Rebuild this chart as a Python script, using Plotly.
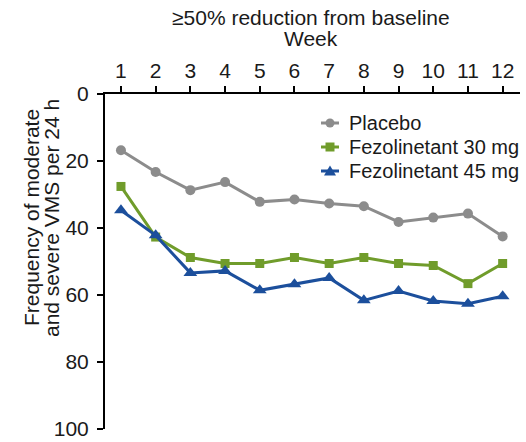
import plotly.graph_objects as go

weeks = [1, 2, 3, 4, 5, 6, 7, 8, 9, 10, 11, 12]
placebo = [16.8, 23.3, 28.7, 26.3, 32.2, 31.5, 32.7, 33.5, 38.2, 36.9, 35.7, 42.5]
fez30 = [27.6, 42.7, 48.8, 50.6, 50.6, 48.8, 50.6, 48.8, 50.6, 51.2, 56.6, 50.6]
fez45 = [34.7, 42.2, 53.4, 52.8, 58.6, 56.8, 54.9, 61.6, 58.8, 61.8, 62.6, 60.4]
y_ticks = [0, 20, 40, 60, 80, 100]
series_names = ["Placebo", "Fezolinetant 30 mg", "Fezolinetant 45 mg"]

styles = [
    dict(color="#8c8c8c", symbol="circle", size=10),
    dict(color="#709c2b", symbol="square", size=9),
    dict(color="#1c4f9c", symbol="triangle-up", size=12),
]

fig = go.Figure()
for name, vals, st in zip(series_names, [placebo, fez30, fez45], styles):
    fig.add_trace(go.Scatter(
        x=weeks, y=vals, name=name, mode="lines+markers",
        line=dict(color=st["color"], width=3),
        marker=dict(color=st["color"], symbol=st["symbol"], size=st["size"]),
        showlegend=False,
    ))

font = "Liberation Sans, Arial, sans-serif"
L, T, B, R = 105, 94, 13, 6
pw = 526 - L - R
ph = 442 - T - B


def px(x):
    return (x - L) / pw


def py(y):
    return 1 - (y - T) / ph


fig.update_layout(
    width=526, height=442,
    margin=dict(l=L, r=R, t=T, b=B, autoexpand=False),
    paper_bgcolor="white", plot_bgcolor="white",
    font=dict(family=font, size=21, color="#1a1a1a"),
    showlegend=False,
    xaxis=dict(
        side="top", range=[0.54, 12.5], tickvals=weeks,
        showline=True, linecolor="black", linewidth=2,
        ticks="outside", ticklen=6, tickwidth=2, tickcolor="black",
        showgrid=False, zeroline=False, tickfont=dict(size=21),
        automargin=False,
    ),
    yaxis=dict(
        range=[100, 0], tickvals=y_ticks,
        showline=True, linecolor="black", linewidth=2,
        ticks="outside", ticklen=6, tickwidth=2, tickcolor="black",
        showgrid=False, zeroline=False, tickfont=dict(size=21),
        ticklabelstandoff=4, automargin=False,
    ),
)
# small extension of the top axis line to the left of the y axis
fig.add_shape(type="line", xref="paper", yref="paper",
              x0=px(98), x1=0, y0=1, y1=1,
              line=dict(color="black", width=2))

# manual legend
rows = [123, 147, 171]
for name, st, ry in zip(series_names, styles, rows):
    c = st["color"]
    fig.add_shape(type="line", xref="paper", yref="paper",
                  x0=px(321), x1=px(339), y0=py(ry), y1=py(ry),
                  line=dict(color=c, width=3))
    if st["symbol"] == "circle":
        fig.add_shape(type="circle", xref="paper", yref="paper",
                      x0=px(325.5), x1=px(334.5), y0=py(ry - 4.5), y1=py(ry + 4.5),
                      fillcolor=c, line=dict(width=0))
    elif st["symbol"] == "square":
        fig.add_shape(type="rect", xref="paper", yref="paper",
                      x0=px(325.5), x1=px(334.5), y0=py(ry - 4.5), y1=py(ry + 4.5),
                      fillcolor=c, line=dict(width=0))
    else:
        path = "M %f %f L %f %f L %f %f Z" % (
            px(324), py(ry + 4.5), px(336), py(ry + 4.5), px(330), py(ry - 5.5))
        fig.add_shape(type="path", xref="paper", yref="paper", path=path,
                      fillcolor=c, line=dict(width=0))
    fig.add_annotation(text=name, xref="paper", yref="paper",
                       x=px(347), y=py(ry), showarrow=False,
                       xanchor="left", yanchor="middle", font=dict(size=20))

cx = px(311)
fig.add_annotation(text="≥50% reduction from baseline", xref="paper", yref="paper",
                   x=cx, y=py(18), showarrow=False,
                   xanchor="center", yanchor="middle", font=dict(size=21))
fig.add_annotation(text="Week", xref="paper", yref="paper",
                   x=cx, y=py(38), showarrow=False,
                   xanchor="center", yanchor="middle", font=dict(size=21))
ycen = py(218)
fig.add_annotation(text="Frequency of moderate", xref="paper", yref="paper",
                   x=px(31), y=ycen, showarrow=False,
                   textangle=-90, xanchor="center", yanchor="middle", font=dict(size=21))
fig.add_annotation(text="and severe VMS per 24 h", xref="paper", yref="paper",
                   x=px(51), y=ycen, showarrow=False,
                   textangle=-90, xanchor="center", yanchor="middle", font=dict(size=21))

fig.write_html("out.html", config={"displayModeBar": False},
               post_script="document.body.style.margin='0';document.body.style.overflow='hidden';")
